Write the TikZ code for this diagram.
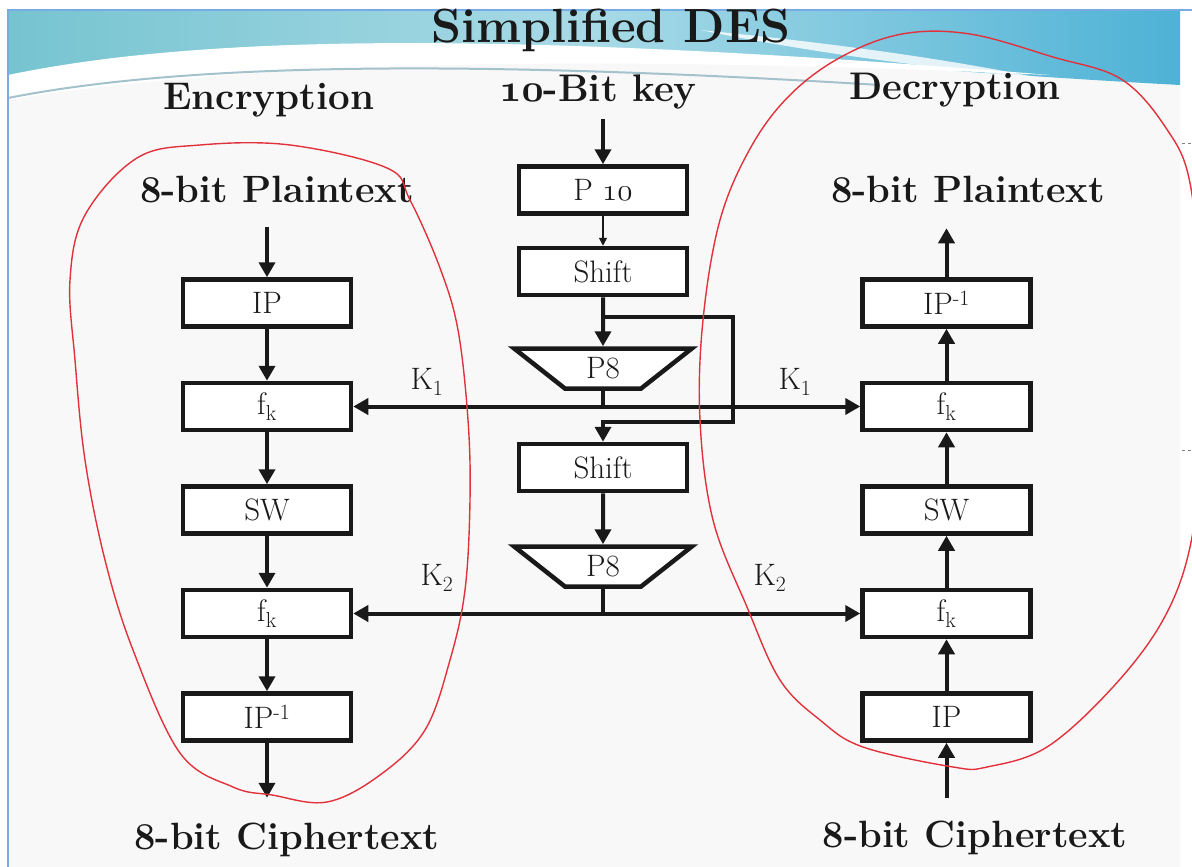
\documentclass[tikz,border=0pt]{standalone}
\usepackage{graphicx}
\usetikzlibrary{arrows.meta, positioning, calc, shapes.geometric}

\definecolor{hdteal}{RGB}{118,196,208}
\definecolor{hdlight}{RGB}{168,218,230}
\definecolor{hdblue}{RGB}{78,178,214}
\definecolor{frameblue}{RGB}{120,170,230}
\definecolor{slidebg}{RGB}{248,248,248}
\definecolor{penred}{RGB}{225,50,60}
\definecolor{ink}{RGB}{25,25,25}

% cifras antiguas (cmm solo llega a 24.88pt)
\newcommand{\keynum}{\scalebox{1.55}{\fontencoding{OML}\fontfamily{cmm}\fontseries{b}\fontshape{it}\fontsize{24.88}{28}\selectfont 10}}
\newcommand{\boxnum}{\scalebox{1.25}{\fontencoding{OML}\fontfamily{cmm}\fontseries{m}\fontshape{it}\fontsize{24.88}{28}\selectfont 10}}

\begin{document}
\begin{tikzpicture}[x=1pt, y=1pt,
    box/.style={draw=ink, line width=4.5pt, fill=white, minimum width=168pt, minimum height=47pt, inner sep=0pt, font=\fontsize{31}{34}\selectfont, text=ink},
    perm/.style={box, trapezium, shape border rotate=180, trapezium angle=44, trapezium stretches=true, minimum width=178pt, minimum height=40pt},
    arrow/.style={-{Triangle[length=15pt, width=16pt]}, line width=4pt, draw=ink},
    twoway/.style={{Triangle[length=15pt, width=16pt]}-{Triangle[length=15pt, width=16pt]}, line width=4pt, draw=ink},
    thinarrow/.style={-{Triangle[length=8pt, width=8pt]}, line width=1.5pt, draw=ink},
    head/.style={font=\bfseries\fontsize{38}{42}\selectfont, text=ink},
    colhead/.style={font=\bfseries\fontsize{38.5}{42}\selectfont, text=ink},
    klab/.style={font=\fontsize{31}{34}\selectfont, text=ink},
    pen/.style={draw=penred, line width=1.4pt}
]
\useasboundingbox (0,0) rectangle (1192,-867);
\clip (0,0) rectangle (1192,-867);

% Fondo de la diapositiva
\fill[white] (0,0) rectangle (1192,-867);
\fill[slidebg] (8,-10) rectangle (1180,-867);

% Banda de cabecera
\shade[left color=hdteal, right color=hdblue, middle color=hdlight]
  (8,-10) -- (1180,-10) -- (1180,-85) .. controls (900,-70) and (600,-40) .. (300,-45)
  .. controls (150,-50) and (60,-65) .. (8,-80) -- cycle;
\fill[white] (8,-75) .. controls (200,-35) and (500,-30) .. (1050,-75)
  .. controls (600,-55) and (250,-60) .. (8,-100) -- cycle;
\fill[white, opacity=0.8] (700,-30) .. controls (850,-45) and (950,-60) .. (1040,-78)
  .. controls (900,-65) and (800,-50) .. (700,-30);
\draw[line width=2pt, color=hdblue!50!gray!60] (8,-98) .. controls (200,-60) and (500,-62) .. (880,-85);
\draw[frameblue, line width=2pt] (8,-867) -- (8,-10) -- (1192,-10);
\draw[gray, dashed, line width=1pt] (1182,-143) -- (1192,-143);
\draw[gray, dashed, line width=1pt] (1182,-450) -- (1192,-450);

% Titulos
\node[font=\bfseries\fontsize{48}{52}\selectfont, text=ink] (title) at (611,-30) {Simplified DES};
\node[colhead] (enc) at (269,-100) {Encryption};
\node[colhead] (key) at (598,-92) {\keynum-Bit key};
\node[colhead] (dec) at (955,-90) {Decryption};

% Generacion de claves
\node[box] (P10) at (603,-190) {P \boxnum};
\node[box, below=30pt of P10] (shift1) {Shift};
\node[perm, below=49pt of shift1] (P8a) {P8};
\node[box, below=51pt of P8a] (shift2) {Shift};
\node[perm, below=51pt of shift2] (P8b) {P8};

\coordinate[above=45pt of P10] (keyin);
\draw[arrow] (keyin) -- (P10);
\draw[thinarrow] (P10) -- (shift1);
\draw[arrow] (shift1) -- (P8a);
\coordinate (split) at ($(shift1.south)+(0,-20)$);
\coordinate[above=20pt of shift2] (back);
\draw[arrow] (split) -- ++(130,0) |- (back) -- (shift2);
\draw[arrow] (shift2) -- (P8b);

% Cifrado
\node[head] (ptl) at (277,-190) {8-bit Plaintext};
\node[box] (IPl) at (267,-303) {IP};
\node[box, below=52pt of IPl] (fkl1) {f\textsubscript{k}};
\node[box, below=52pt of fkl1] (SWl) {SW};
\node[box, below=52pt of SWl] (fkl2) {f\textsubscript{k}};
\node[box, below=52pt of fkl2] (IPil) {IP\textsuperscript{-1}};
\node[head] (ctl) at (287,-840) {8-bit Ciphertext};

\coordinate[above=50pt of IPl] (inl);
\coordinate[below=55pt of IPil] (outl);
\draw[arrow] (inl) -- (IPl);
\draw[arrow] (IPl) -- (fkl1);
\draw[arrow] (fkl1) -- (SWl);
\draw[arrow] (SWl) -- (fkl2);
\draw[arrow] (fkl2) -- (IPil);
\draw[arrow] (IPil) -- (outl);

% Descifrado
\node[head] (ptr) at (968,-190) {8-bit Plaintext};
\node[box, right=507pt of IPl] (IPir) {IP\textsuperscript{-1}};
\node[box, below=52pt of IPir] (fkr1) {f\textsubscript{k}};
\node[box, below=52pt of fkr1] (SWr) {SW};
\node[box, below=52pt of SWr] (fkr2) {f\textsubscript{k}};
\node[box, below=52pt of fkr2] (IPr) {IP};
\node[head] (ctr) at (975,-838) {8-bit Ciphertext};

\coordinate[above=49pt of IPir] (outr);
\coordinate[below=55pt of IPr] (inr);
\draw[arrow] (inr) -- (IPr);
\draw[arrow] (IPr) -- (fkr2);
\draw[arrow] (fkr2) -- (SWr);
\draw[arrow] (SWr) -- (fkr1);
\draw[arrow] (fkr1) -- (IPir);
\draw[arrow] (IPir) -- (outr);

% Subclaves K1 y K2
\coordinate (k1) at (P8a.south |- fkl1.east);
\coordinate (k2) at (P8b.south |- fkl2.east);
\draw[line width=4pt, draw=ink] (P8a.south) -- (k1);
\draw[line width=4pt, draw=ink] (P8b.south) -- (k2);
\draw[twoway] (fkl1.east) -- (fkr1.west);
\draw[twoway] (fkl2.east) -- (fkr2.west);
\node[klab] (k1l) at (427,-382) {K\textsubscript{1}};
\node[klab] (k1r) at (795,-382) {K\textsubscript{1}};
\node[klab] (k2l) at (437,-578) {K\textsubscript{2}};
\node[klab] (k2r) at (770,-578) {K\textsubscript{2}};

% Marcas a mano
\draw[pen] plot[smooth cycle, tension=0.6] coordinates {
  (290,-145) (387,-168) (410,-200) (440,-268) (458,-330) (468,-420) (470,-500)
  (465,-590) (450,-660) (425,-730) (380,-775) (327,-802) (272,-795) (233,-787)
  (180,-753) (133,-650) (105,-560) (85,-460) (75,-360) (70,-280) (85,-215)
  (137,-158) (200,-145)};
\draw[pen] plot[smooth cycle, tension=0.6] coordinates {
  (841,-57) (902,-34) (970,-34) (1053,-57) (1121,-79) (1166,-128) (1190,-183)
  (1200,-300) (1200,-450) (1190,-547) (1163,-620) (1113,-687) (1047,-747)
  (987,-767) (953,-767) (863,-747) (820,-720) (780,-680) (747,-607) (713,-520)
  (700,-420) (703,-320) (720,-220) (751,-147) (790,-95)};
\end{tikzpicture}
\end{document}
